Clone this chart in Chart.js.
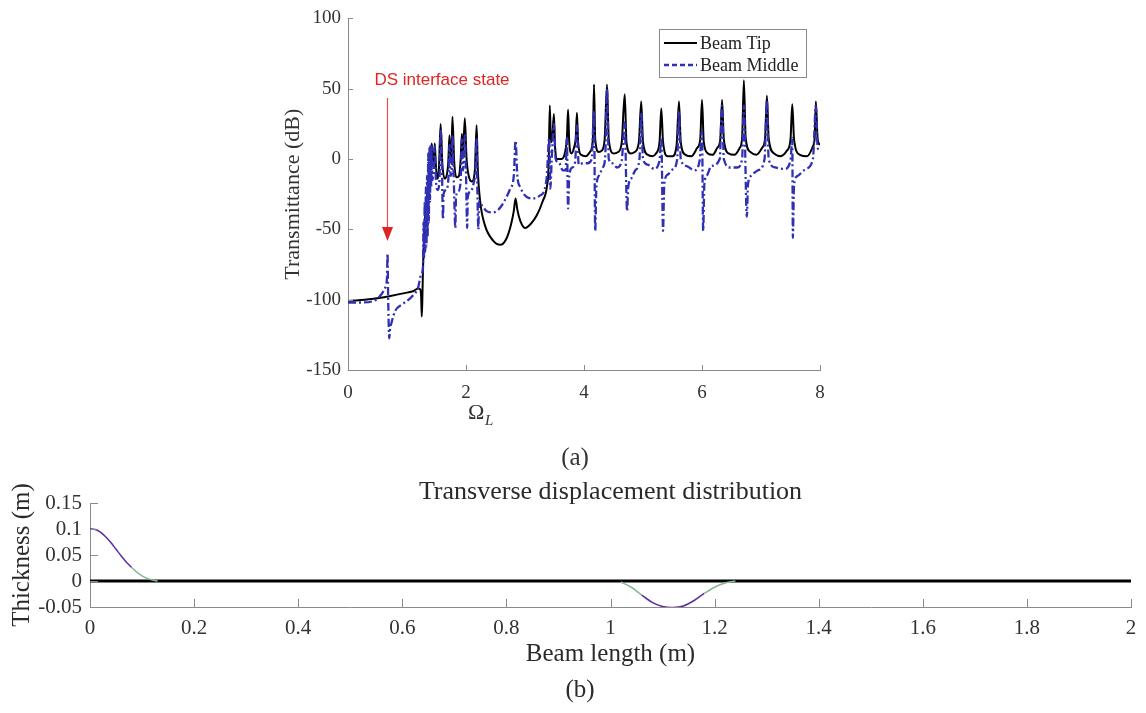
<!DOCTYPE html>
<html><head><meta charset="utf-8">
<script src="https://cdn.jsdelivr.net/npm/chart.js@4.4.1/dist/chart.umd.min.js"></script>
<style>
html,body{margin:0;padding:0;background:#fff;width:1146px;height:713px;overflow:hidden}
#c1{position:absolute;left:0;top:0}
#c2{position:absolute;left:0;top:470px}
</style></head><body>
<canvas id="c1" width="1146" height="470"></canvas>
<canvas id="c2" width="1146" height="243"></canvas>
<script>
// ---------- (a) Transmittance ----------
const omegaTip = [0,0.4,0.7,1.0,1.1,1.19,1.22,1.24,1.25,1.26,1.27,1.29,1.31,1.34,1.37,1.39,1.41,1.42,1.44,1.46,1.47,1.49,1.52,1.54,1.57,1.60,1.64,1.68,1.70,1.72,1.74,1.75,1.77,1.80,1.84,1.88,1.91,1.93,1.95,1.98,2.01,2.06,2.10,2.15,2.18,2.20,2.24,2.32,2.46,2.58,2.68,2.76,2.81,2.84,2.87,2.92,3.00,3.10,3.20,3.30,3.37,3.40,3.42,3.44,3.46,3.49,3.51,3.55,3.62,3.68,3.71,3.73,3.75,3.79,3.83,3.86,3.88,3.90,3.95,4.03,4.10,4.15,4.17,4.19,4.25,4.30,4.35,4.39,4.42,4.50,4.58,4.64,4.69,4.72,4.79,4.86,4.93,4.97,5.00,5.08,5.16,5.22,5.28,5.31,5.34,5.42,5.50,5.57,5.61,5.64,5.72,5.82,5.92,5.97,6.00,6.03,6.10,6.18,6.26,6.31,6.34,6.37,6.45,6.55,6.64,6.68,6.71,6.74,6.82,6.92,7.02,7.07,7.10,7.13,7.22,7.33,7.44,7.50,7.53,7.56,7.66,7.78,7.88,7.91,7.93,7.96,8.00];
const tipDb = [-101,-99.5,-97.5,-95,-94,-92,-92.5,-98,-112,-100,-80,-55,-38,-25,-14,-6,4,11,-2,0,11,-5,-14,-8,25,-4,-14,-10,-2,17,-2,-2,30,-2,-13,-12,0,18,4,29,0,-14,-16,-8,24,-7,-30,-47,-58,-61,-57,-47,-37,-28,-36,-44,-49,-46,-40,-30,-20,-5,38,12,14,32,8,0,0,5,15,35,12,4,8,15,33,12,3,2,5,14,53,14,5,6,14,53,14,4,5,12,46,12,4,5,12,41,12,3,2,4,12,36,12,2,2,10,41,12,3,2,8,14,42,12,4,3,8,14,42,14,4,3,8,15,56,15,5,3,8,15,45,15,4,2,6,14,39,14,3,2,9,15,41,14,10];
const omegaMid = [0,0.2,0.43,0.57,0.63,0.66,0.67,0.68,0.70,0.71,0.74,0.80,0.93,1.08,1.19,1.24,1.27,1.28,1.29,1.30,1.31,1.32,1.33,1.34,1.35,1.36,1.37,1.38,1.39,1.40,1.41,1.42,1.43,1.45,1.47,1.49,1.52,1.55,1.57,1.59,1.61,1.62,1.66,1.70,1.72,1.74,1.76,1.77,1.79,1.82,1.83,1.87,1.91,1.93,1.95,1.98,2.00,2.02,2.03,2.08,2.13,2.16,2.18,2.19,2.21,2.22,2.27,2.35,2.45,2.55,2.65,2.75,2.81,2.84,2.87,2.92,3.03,3.14,3.25,3.33,3.37,3.41,3.43,3.45,3.49,3.52,3.58,3.64,3.69,3.71,3.73,3.75,3.80,3.85,3.88,3.91,3.98,4.06,4.13,4.17,4.19,4.21,4.25,4.32,4.36,4.39,4.42,4.48,4.56,4.64,4.69,4.73,4.75,4.80,4.87,4.94,4.97,5.00,5.08,5.19,5.28,5.31,5.34,5.36,5.42,5.51,5.58,5.61,5.64,5.74,5.87,5.96,6.00,6.02,6.04,6.08,6.16,6.30,6.34,6.37,6.48,6.60,6.68,6.71,6.76,6.78,6.83,6.95,7.06,7.10,7.13,7.24,7.40,7.50,7.53,7.54,7.56,7.62,7.76,7.88,7.93,7.96,8.00];
const midDb = [-102,-102,-101,-96,-91.5,-85,-67,-97,-127.5,-122,-116,-108,-103,-98,-91,-82,-77,-45,-70,-30,-66,-20,-62,-12,-55,4,-45,8,-30,10,-20,9,-15,-8,9,-15,-22,-15,21,0,-43,-25,-22,-15,10,-12,-5,17,-10,-49,-27,-23,-15,14,-8,17,-10,-49,-27,-23,-17,-8,15,-15,-50,-30,-33,-37,-38,-36,-30,-21,-12,13,-12,-20,-27,-28,-26,-22,-12,15,-21,-3,25,0,-3,-8,-8,15,-35,-12,-6,-2,24,-4,-3,-3,0,34,-51,-20,-12,-6,2,50,0,-3,-6,-1,26,-37,-20,-14,-8,0,33,0,-4,-7,-1,15,-51,-18,-11,-7,0,34,0,-5,-8,-1,20,-51,-18,-12,-5,0,38,0,-6,-6,0,38,-41,-18,-12,-8,0,42,0,-6,-7,-1,15,-56,-18,-12,-7,0,38,8,6];
const seriesNames = ['Beam Tip','Beam Middle'];
const xTitleMainA = 'Ω', xTitleSubA = 'L';
const yTitleA = 'Transmittance (dB)';
const annotationText = 'DS interface state';
const panelA = '(a)';

// ---------- (b) Transverse displacement ----------
const beamLine = [0, 2];
const modeX1 = [0,0.01,0.02,0.03,0.04,0.05,0.06,0.07,0.08,0.09,0.10,0.11,0.12,0.13];
const modeY1 = [0.1,0.099,0.094,0.085,0.074,0.061,0.048,0.036,0.026,0.017,0.010,0.005,0.002,0];
const modeX2 = [1.02,1.04,1.06,1.08,1.10,1.12,1.14,1.16,1.18,1.20,1.22,1.24];
const modeY2 = [-0.002,-0.012,-0.027,-0.041,-0.049,-0.051,-0.048,-0.038,-0.024,-0.012,-0.004,0];
const titleB = 'Transverse displacement distribution';
const xTitleB = 'Beam length (m)';
const yTitleB = 'Thickness (m)';
const panelB = '(b)';

const SERIF = '"Liberation Serif", "Times New Roman", serif';
const pts = (xs, ys) => xs.map((x, i) => ({x, y: ys[i]}));
const fmt = v => String(Number(v.toFixed(3)));

const inwardTicks = {
  id: 'inwardTicks',
  afterDatasetsDraw(chart, args, o) {
    const {ctx, chartArea: a, scales: {x, y}} = chart;
    ctx.save(); ctx.strokeStyle = o.color; ctx.lineWidth = 1;
    x.ticks.forEach(t => { const p = Math.round(x.getPixelForValue(t.value)) + 0.5; ctx.beginPath(); ctx.moveTo(p, a.bottom); ctx.lineTo(p, a.bottom - o.len); ctx.stroke(); });
    y.ticks.forEach(t => { const p = Math.round(y.getPixelForValue(t.value)) + 0.5; ctx.beginPath(); ctx.moveTo(a.left, p); ctx.lineTo(a.left + o.len, p); ctx.stroke(); });
    ctx.restore();
  }
};

const decorA = {
  id: 'decorA',
  afterDraw(chart) {
    const {ctx, chartArea: a} = chart;
    ctx.save();
    ctx.fillStyle = '#333';
    ctx.font = '22px ' + SERIF; ctx.textAlign = 'center'; ctx.textBaseline = 'middle';
    ctx.save(); ctx.translate(293, (a.top + a.bottom) / 2); ctx.rotate(-Math.PI / 2); ctx.fillText(yTitleA, 0, 0); ctx.restore();
    ctx.textAlign = 'left'; ctx.textBaseline = 'alphabetic';
    ctx.font = '22px ' + SERIF; ctx.fillText(xTitleMainA, 468, 419);
    ctx.font = 'italic 15px ' + SERIF; ctx.fillText(xTitleSubA, 485, 425);
    ctx.textAlign = 'center'; ctx.textBaseline = 'middle';
    ctx.font = '25px ' + SERIF; ctx.fillText(panelA, 575, 458);
    // annotation
    ctx.fillStyle = '#e02424'; ctx.strokeStyle = '#e85050';
    ctx.font = '17px "Liberation Sans", Arial, sans-serif';
    ctx.fillText(annotationText, 442, 80);
    const ax = 387.5;
    ctx.lineWidth = 1.2; ctx.beginPath(); ctx.moveTo(ax, 98); ctx.lineTo(ax, 232); ctx.stroke();
    ctx.fillStyle = '#e02424'; ctx.beginPath(); ctx.moveTo(ax - 5.5, 227); ctx.lineTo(ax + 5.5, 227); ctx.lineTo(ax, 241); ctx.closePath(); ctx.fill();
    // legend
    const ds = chart.data.datasets;
    ctx.fillStyle = '#fff'; ctx.fillRect(659.5, 29.5, 147, 48);
    ctx.strokeStyle = '#8a8a8a'; ctx.lineWidth = 1; ctx.strokeRect(659.5, 29.5, 147, 48);
    const rows = [43, 65];
    ds.forEach((d, i) => {
      ctx.strokeStyle = d.borderColor; ctx.lineWidth = d.borderWidth; ctx.setLineDash(d.legendDash || []);
      ctx.beginPath(); ctx.moveTo(664, rows[i]); ctx.lineTo(697, rows[i]); ctx.stroke();
      ctx.setLineDash([]);
      ctx.fillStyle = '#222'; ctx.font = '18px ' + SERIF; ctx.textAlign = 'left'; ctx.textBaseline = 'middle';
      ctx.fillText(d.label, 700, rows[i] + 1);
    });
    ctx.restore();
  }
};

const decorB = {
  id: 'decorB',
  afterDraw(chart) {
    const {ctx, chartArea: a} = chart;
    ctx.save();
    ctx.fillStyle = '#2a2a2a'; ctx.textAlign = 'center'; ctx.textBaseline = 'middle';
    ctx.font = '26px ' + SERIF;
    ctx.fillText(titleB, (a.left + a.right) / 2, 22);
    ctx.font = '25px ' + SERIF;
    ctx.fillText(xTitleB, (a.left + a.right) / 2, 184);
    ctx.fillText(panelB, 580, 220);
    ctx.save(); ctx.translate(22, 85); ctx.rotate(-Math.PI / 2); ctx.fillText(yTitleB, 0, 0); ctx.restore();
    ctx.restore();
  }
};

new Chart(document.getElementById('c1'), {
  type: 'line',
  data: {
    datasets: [
      {label: seriesNames[0], data: pts(omegaTip, tipDb), borderColor: '#000', borderWidth: 2, pointRadius: 0, cubicInterpolationMode: 'monotone', order: 1},
      {label: seriesNames[1], data: pts(omegaMid, midDb), borderColor: '#3030b4', borderWidth: 2.3, borderDash: [8, 3, 2, 3], legendDash: [5, 3], pointRadius: 0, cubicInterpolationMode: 'monotone', order: 0}
    ]
  },
  options: {
    responsive: false, devicePixelRatio: 1, animation: false,
    layout: {padding: {left: 288, right: 326, top: 15, bottom: 60}},
    plugins: {legend: {display: false}, tooltip: {enabled: false}, inwardTicks: {color: '#8a8a8a', len: 5}},
    scales: {
      x: {type: 'linear', min: 0, max: 8,
        afterFit: s => { s.height = 40; },
        grid: {drawOnChartArea: false, drawTicks: false},
        border: {display: true, color: '#8a8a8a', width: 1},
        ticks: {stepSize: 2, padding: 12, color: '#333', font: {family: SERIF, size: 19}, maxRotation: 0, autoSkip: false}},
      y: {type: 'linear', min: -150, max: 100,
        afterFit: s => { s.width = 60; },
        grid: {drawOnChartArea: false, drawTicks: false},
        border: {display: true, color: '#8a8a8a', width: 1},
        ticks: {stepSize: 50, padding: 7, color: '#333', font: {family: SERIF, size: 19}, autoSkip: false}}
    }
  },
  plugins: [inwardTicks, decorA]
});

const purple = '#5b2c9e', green = '#86b896';
new Chart(document.getElementById('c2'), {
  type: 'line',
  data: {
    datasets: [
      {label: 'zero', data: pts(beamLine, [0, 0]), borderColor: '#000', borderWidth: 3, pointRadius: 0, order: 1},
      {label: 'mode1', data: pts(modeX1, modeY1), borderColor: purple, borderWidth: 1.5, pointRadius: 0, tension: 0.3, order: 0,
        segment: {borderColor: c => Math.max(Math.abs(c.p0.parsed.y), Math.abs(c.p1.parsed.y)) > 0.035 ? purple : green}},
      {label: 'mode2', data: pts(modeX2, modeY2), borderColor: purple, borderWidth: 1.5, pointRadius: 0, tension: 0.3, order: 0,
        segment: {borderColor: c => Math.max(Math.abs(c.p0.parsed.y), Math.abs(c.p1.parsed.y)) > 0.03 ? purple : green}}
    ]
  },
  options: {
    responsive: false, devicePixelRatio: 1, animation: false,
    layout: {padding: {left: 30, right: 15, top: 33, bottom: 66}},
    plugins: {legend: {display: false}, tooltip: {enabled: false}, inwardTicks: {color: '#8a8a8a', len: 8}},
    scales: {
      x: {type: 'linear', min: 0, max: 2,
        afterFit: s => { s.height = 40; },
        grid: {drawOnChartArea: false, drawTicks: false},
        border: {display: true, color: '#8a8a8a', width: 1},
        ticks: {stepSize: 0.2, padding: 9, color: '#333', font: {family: SERIF, size: 21}, maxRotation: 0, autoSkip: false, callback: v => fmt(v)}},
      y: {type: 'linear', min: -0.05, max: 0.15,
        afterFit: s => { s.width = 60; },
        grid: {drawOnChartArea: false, drawTicks: false},
        border: {display: true, color: '#8a8a8a', width: 1},
        ticks: {stepSize: 0.05, padding: 8, color: '#333', font: {family: SERIF, size: 21}, autoSkip: false, callback: v => fmt(v)}}
    }
  },
  plugins: [inwardTicks, decorB]
});
</script>
</body></html>
